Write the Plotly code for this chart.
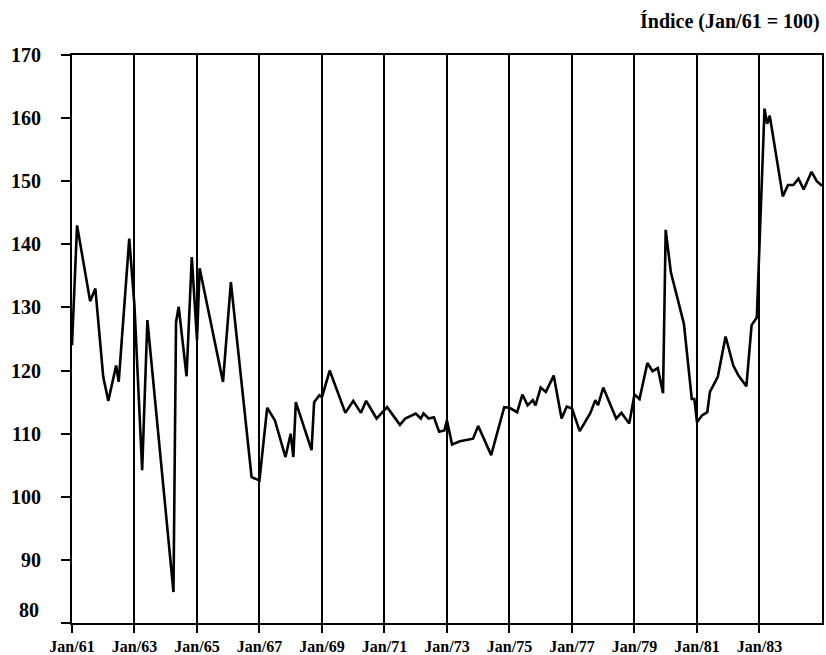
import plotly.graph_objects as go

dates = ["1961-01", "1961-02", "1961-03", "1961-08", "1961-10", "1962-01", "1962-03", "1962-06",
         "1962-07", "1962-11", "1963-01", "1963-04", "1963-06", "1964-04", "1964-05", "1964-06",
         "1964-09", "1964-11", "1965-01", "1965-02", "1965-11", "1966-02", "1966-10", "1967-01",
         "1967-04", "1967-07", "1967-11", "1968-01", "1968-02", "1968-03", "1968-09", "1968-10",
         "1968-12", "1969-01", "1969-04", "1969-10", "1970-01", "1970-04", "1970-06", "1970-10",
         "1971-02", "1971-07", "1971-09", "1972-01", "1972-03", "1972-04", "1972-06", "1972-08",
         "1972-10", "1972-12", "1973-01", "1973-03", "1973-06", "1973-11", "1974-01", "1974-06",
         "1974-11", "1975-01", "1975-04", "1975-06", "1975-08", "1975-10", "1975-11", "1976-01",
         "1976-03", "1976-06", "1976-09", "1976-11", "1977-01", "1977-04", "1977-08", "1977-10",
         "1977-11", "1978-01", "1978-06", "1978-08", "1978-11", "1979-01", "1979-03", "1979-06",
         "1979-08", "1979-10", "1979-12", "1980-01", "1980-03", "1980-08", "1980-11", "1980-12",
         "1981-01", "1981-03", "1981-05", "1981-06", "1981-09", "1981-12", "1982-03", "1982-05",
         "1982-08", "1982-10", "1982-12", "1983-03", "1983-04", "1983-05", "1983-10", "1983-12",
         "1984-02", "1984-04", "1984-06", "1984-09", "1984-11", "1985-01"]

indice = [124, 134, 143, 131, 133, 119, 115.2, 120.8,
          118.2, 140.9, 130.3, 104.2, 128, 84.9, 127.7, 130.1,
          119.1, 138, 124.8, 136.2, 118.2, 134, 103.1, 102.6,
          114.1, 112.1, 106.3, 110, 106.3, 115, 107.4, 115,
          116.1, 115.8, 120, 113.3, 115.2, 113.3, 115.2, 112.4,
          114.2, 111.4, 112.4, 113.2, 112.4, 113.2, 112.4, 112.6,
          110.3, 110.5, 112.1, 108.3, 108.8, 109.2, 111.2, 106.6,
          114.2, 114.1, 113.4, 116.2, 114.5, 115.3, 114.5, 117.3,
          116.6, 119.2, 112.4, 114.3, 114.0, 110.4, 113.2, 115.3,
          114.5, 117.3, 112.4, 113.3, 111.6, 116.2, 115.5, 121.2,
          119.9, 120.4, 116.4, 142.3, 135.6, 127.4, 115.5, 115.5,
          111.8, 112.9, 113.4, 116.6, 119.0, 125.4, 120.8, 119.2,
          117.5, 127.2, 128.4, 161.5, 159.1, 160.4, 147.6, 149.4,
          149.4, 150.4, 148.7, 151.5, 150.0, 149.3]

x_tickvals = ["1961-01-01", "1963-01-01", "1965-01-01", "1967-01-01", "1969-01-01", "1971-01-01",
              "1973-01-01", "1975-01-01", "1977-01-01", "1979-01-01", "1981-01-01", "1983-01-01"]
x_ticktext = ["Jan/61", "Jan/63", "Jan/65", "Jan/67", "Jan/69", "Jan/71",
              "Jan/73", "Jan/75", "Jan/77", "Jan/79", "Jan/81", "Jan/83"]
y_tickvals = [80, 90, 100, 110, 120, 130, 140, 150, 160, 170]
y_ticktext = ["", "90", "100", "110", "120", "130", "140", "150", "160", "170"]

FONT = "Liberation Serif"

fig = go.Figure()
fig.add_trace(go.Scatter(x=dates, y=indice, mode="lines",
                         line=dict(color="black", width=2.6), showlegend=False))

fig.update_layout(
    width=826, height=655,
    margin=dict(l=72, r=4, t=55, b=32),
    paper_bgcolor="white", plot_bgcolor="white",
    font=dict(family=FONT, color="black"),
    xaxis=dict(
        type="date", range=["1961-01-01", "1985-01-01"],
        tickmode="array", tickvals=x_tickvals, ticktext=x_ticktext,
        tickfont=dict(family=FONT, size=16, color="black", weight="bold"),
        ticks="outside", ticklen=8, tickwidth=2, tickcolor="black",
        showgrid=True, gridcolor="black", gridwidth=2,
        showline=True, linecolor="black", linewidth=2, mirror=True,
        zeroline=False, automargin=False,
    ),
    yaxis=dict(
        range=[80, 170],
        tickmode="array", tickvals=y_tickvals, ticktext=y_ticktext,
        tickfont=dict(family=FONT, size=20, color="black", weight="bold"),
        ticks="outside", ticklen=9, tickwidth=2, tickcolor="black",
        ticklabelstandoff=16,
        showgrid=False,
        showline=True, linecolor="black", linewidth=2, mirror=True,
        zeroline=False, automargin=False,
    ),
    annotations=[
        dict(text="80", xref="paper", yref="y", x=-31 / 750, y=82,
             xanchor="right", yanchor="middle", showarrow=False,
             font=dict(family=FONT, size=20, color="black", weight="bold")),
        dict(text="Índice (Jan/61 = 100)", xref="paper", yref="paper",
             x=1.0, y=1.0, yshift=20, xanchor="right", yanchor="bottom", showarrow=False,
             font=dict(family=FONT, size=20, color="black", weight="bold")),
    ],
)

fig.write_html("out.html", config={"displayModeBar": False},
               post_script="document.body.style.margin='0';document.body.style.overflow='hidden';")
